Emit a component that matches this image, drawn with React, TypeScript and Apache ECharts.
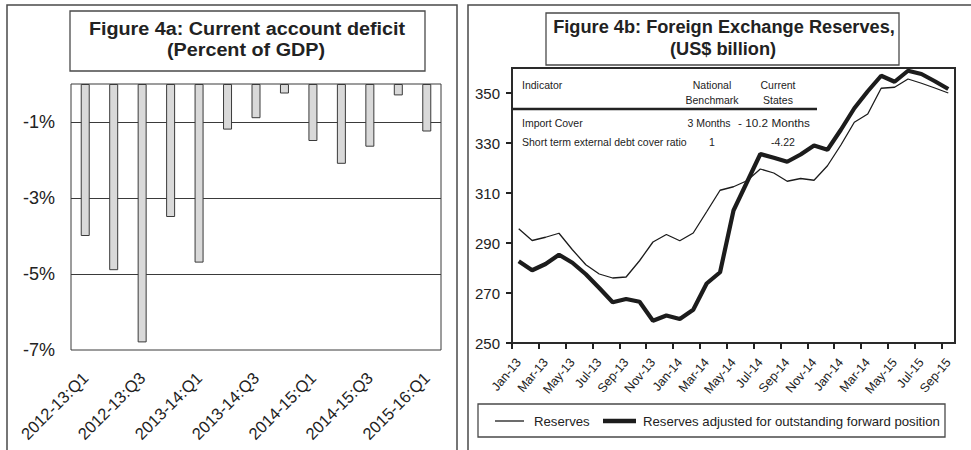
import React, { useEffect, useRef } from "react";
import * as echarts from "echarts";

// ---- Figure 4a data ----
const quarters = [
  "2012-13:Q1", "2012-13:Q2", "2012-13:Q3", "2012-13:Q4",
  "2013-14:Q1", "2013-14:Q2", "2013-14:Q3", "2013-14:Q4",
  "2014-15:Q1", "2014-15:Q2", "2014-15:Q3", "2014-15:Q4",
  "2015-16:Q1",
];
const cadValues = [-4.0, -4.9, -6.8, -3.5, -4.7, -1.2, -0.9, -0.25, -1.5, -2.1, -1.65, -0.3, -1.25];
const cadGridLines = [-1, -3, -5];
const cadLabelValues = [-7, -5, -3, -1];

// ---- Figure 4b data ----
const months = [
  "Jan-13", "Feb-13", "Mar-13", "Apr-13", "May-13", "Jun-13", "Jul-13", "Aug-13", "Sep-13", "Oct-13", "Nov-13", "Dec-13",
  "Jan-14", "Feb-14", "Mar-14", "Apr-14", "May-14", "Jun-14", "Jul-14", "Aug-14", "Sep-14", "Oct-14", "Nov-14", "Dec-14",
  "Jan-15", "Feb-15", "Mar-15", "Apr-15", "May-15", "Jun-15", "Jul-15", "Aug-15", "Sep-15",
];
const monthTickLabels = [
  "Jan-13", "Mar-13", "May-13", "Jul-13", "Sep-13", "Nov-13", "Jan-14", "Mar-14", "May-14",
  "Jul-14", "Sep-14", "Nov-14", "Jan-14", "Mar-14", "May-15", "Jul-15", "Sep-15",
];
const reserves = [
  295.7, 291.0, 292.3, 293.9, 287.3, 281.3, 277.6, 276.0, 276.4, 282.9, 290.4, 293.4,
  290.9, 294.0, 302.5, 311.1, 312.5, 314.9, 319.6, 318.0, 314.7, 315.8, 315.1, 320.9,
  329.2, 338.3, 341.6, 351.9, 352.3, 355.6, 353.9, 352.0, 350.0,
];
const adjustedReserves = [
  282.7, 279.1, 281.6, 285.3, 282.1, 277.5, 272.0, 266.3, 267.6, 266.5, 258.9, 261.0,
  259.6, 263.3, 273.8, 278.3, 303.0, 314.3, 325.6, 324.1, 322.5, 325.4, 329.0, 327.3,
  335.3, 343.9, 350.7, 356.9, 354.5, 358.9, 357.6, 354.7, 351.6,
];
const reserveTicks = [250, 270, 290, 310, 330, 350];
const seriesNames = ["Reserves", "Reserves adjusted for outstanding forward position"];
const seriesWidths = [1.3, 4.2];

// ---- inset table ----
const tableHeader = ["Indicator", "National\nBenchmark", "Current\nStates"];
const tableRows = [
  ["Import Cover", "3 Months", "- 10.2 Months"],
  ["Short term external debt cover ratio", "1", "-4.22"],
];

const FONT = "'Liberation Sans', Arial, Helvetica, sans-serif";
const INK = "#222";
const LINE = "#1c1c1c";

function txt(text: string, x: number, y: number, extra: any = {}, el: any = {}) {
  return {
    type: "text",
    x,
    y,
    silent: true,
    ...el,
    style: {
      text,
      fill: INK,
      fontFamily: FONT,
      fontSize: 10.5,
      align: "left",
      verticalAlign: "middle",
      ...extra,
    },
  };
}

export default function App() {
  const ref = useRef<HTMLDivElement>(null);

  useEffect(() => {
    if (!ref.current) return;
    const chart = echarts.init(ref.current, undefined, { renderer: "svg" });

    const evenTicks: number[] = [];
    const labelPos: number[] = [];
    for (let i = 0; i < months.length; i += 2) {
      evenTicks.push(i);
      labelPos.push(i + 0.5);
    }

    const tableCols = [522, 712, 778];
    const rowCols = [522, 709, 774];
    const graphics: any[] = [
      // panel frames
      { type: "rect", silent: true, shape: { x: 7, y: 5, width: 450, height: 480 }, style: { fill: "none", stroke: "#4a4a4a", lineWidth: 1.5 } },
      { type: "rect", silent: true, shape: { x: 468, y: 5, width: 540, height: 480 }, style: { fill: "none", stroke: "#4a4a4a", lineWidth: 1.5 } },
      // title boxes
      { type: "rect", silent: true, shape: { x: 70, y: 11, width: 355, height: 60 }, style: { fill: "#fff", stroke: "#4a4a4a", lineWidth: 1.3 } },
      { type: "rect", silent: true, shape: { x: 546, y: 13, width: 353, height: 52 }, style: { fill: "#fff", stroke: "#4a4a4a", lineWidth: 1.3 } },
      txt("Figure 4a: Current account deficit", 247, 29, { fontSize: 17.5, fontWeight: "bold", align: "center" }, { scaleX: 1.13 }),
      txt("(Percent of GDP)", 246, 50, { fontSize: 17.5, fontWeight: "bold", align: "center" }, { scaleX: 1.13 }),
      txt("Figure 4b: Foreign Exchange Reserves,", 724, 27, { fontSize: 17.5, fontWeight: "bold", align: "center" }, { scaleX: 1.04 }),
      txt("(US$ billion)", 723, 49, { fontSize: 17.5, fontWeight: "bold", align: "center" }, { scaleX: 1.04 }),
      // legend box and entries
      { type: "rect", silent: true, shape: { x: 478, y: 404, width: 467, height: 33 }, style: { fill: "none", stroke: "#4a4a4a", lineWidth: 1.3 } },
      { type: "line", silent: true, shape: { x1: 495, y1: 421, x2: 524, y2: 421 }, style: { stroke: LINE, lineWidth: seriesWidths[0] } },
      txt(seriesNames[0], 534, 421, { fontSize: 13.2 }),
      { type: "line", silent: true, shape: { x1: 603, y1: 421, x2: 636, y2: 421 }, style: { stroke: LINE, lineWidth: 4.5 } },
      txt(seriesNames[1], 643, 421, { fontSize: 13.2 }),
      // table header
      txt(tableHeader[0], tableCols[0], 85),
      txt(tableHeader[1], tableCols[1], 92.5, { align: "center", lineHeight: 15 }),
      txt(tableHeader[2], tableCols[2], 92.5, { align: "center", lineHeight: 15 }),
      { type: "line", silent: true, shape: { x1: 513, y1: 109, x2: 817, y2: 109 }, style: { stroke: INK, lineWidth: 2.5 } },
    ];
    tableRows.forEach((row, r) => {
      const y = 123 + r * 19;
      graphics.push(txt(row[0], rowCols[0], y));
      graphics.push(txt(row[1], rowCols[1] + (r === 1 ? 3 : 0), y, { align: "center" }));
      graphics.push(
        r === 0
          ? txt(row[2], rowCols[2], y, { align: "center" }, { scaleX: 1.12 })
          : txt(row[2], rowCols[2] + 9, y, { align: "center" })
      );
    });

    const option: any = {
      animation: false,
      backgroundColor: "#fff",
      textStyle: { fontFamily: FONT },
      grid: [
        { left: 71, top: 84, width: 370, height: 266, show: true, borderColor: "#3a3a3a", borderWidth: 1, backgroundColor: "transparent" },
        { left: 512, top: 68, width: 443, height: 275, show: true, borderColor: "#2a2a2a", borderWidth: 2, backgroundColor: "transparent" },
      ],
      xAxis: [
        {
          type: "category",
          gridIndex: 0,
          data: quarters,
          axisLine: { show: false },
          axisTick: { show: false },
          axisLabel: {
            interval: 1,
            rotate: 45,
            fontSize: 16.5,
            color: INK,
            margin: 25,
            verticalAlign: "middle",
            fontFamily: FONT,
          },
        },
        {
          type: "value",
          gridIndex: 1,
          min: 0,
          max: months.length,
          splitLine: { show: false },
          axisLine: { show: false },
          axisTick: { show: true, inside: false, length: 6, customValues: evenTicks, lineStyle: { color: INK, width: 2 } },
          axisLabel: {
            customValues: labelPos,
            rotate: 50,
            fontSize: 12.5,
            color: INK,
            margin: 17,
            verticalAlign: "middle",
            fontFamily: FONT,
            formatter: (v: number) => monthTickLabels[Math.round((v - 0.5) / 2)] ?? "",
          },
        },
      ],
      yAxis: [
        {
          type: "value",
          gridIndex: 0,
          min: -7,
          max: 0,
          interval: 1,
          splitLine: { show: false },
          axisLine: { show: false },
          axisTick: { show: false },
          axisLabel: {
            customValues: cadLabelValues,
            fontSize: 18,
            color: INK,
            margin: 16,
            fontFamily: FONT,
            formatter: (v: number) => `${v}%`,
          },
        },
        {
          type: "value",
          gridIndex: 1,
          min: 250,
          max: 360,
          interval: 20,
          splitLine: { show: false },
          axisLine: { show: false },
          axisTick: { show: true, inside: false, length: 6, customValues: reserveTicks, lineStyle: { color: INK, width: 2 } },
          axisLabel: { customValues: reserveTicks, fontSize: 15, color: INK, margin: 12, fontFamily: FONT },
        },
      ],
      series: [
        {
          name: "Current account deficit",
          type: "bar",
          xAxisIndex: 0,
          yAxisIndex: 0,
          data: cadValues,
          barWidth: 9,
          itemStyle: { color: "#d9d9d9", borderColor: "#3a3a3a", borderWidth: 1 },
          z: 3,
          markLine: {
            z: 1,
            silent: true,
            symbol: ["none", "none"],
            label: { show: false },
            lineStyle: { color: "#3a3a3a", width: 1, type: "solid" },
            data: cadGridLines.map((v) => ({ yAxis: v })),
          },
        },
        {
          name: seriesNames[0],
          type: "line",
          xAxisIndex: 1,
          yAxisIndex: 1,
          data: reserves.map((v, i) => [i + 0.5, v]),
          symbol: "none",
          itemStyle: { color: LINE },
          lineStyle: { color: LINE, width: seriesWidths[0] },
        },
        {
          name: seriesNames[1],
          type: "line",
          xAxisIndex: 1,
          yAxisIndex: 1,
          data: adjustedReserves.map((v, i) => [i + 0.5, v]),
          symbol: "none",
          itemStyle: { color: LINE },
          lineStyle: { color: LINE, width: seriesWidths[1] },
        },
      ],
      graphic: { elements: graphics },
    };

    chart.setOption(option);
    return () => chart.dispose();
  }, []);

  return (
    <div
      ref={ref}
      style={{ position: "absolute", left: 0, top: 0, width: 971, height: 450, background: "#fff" }}
    />
  );
}
